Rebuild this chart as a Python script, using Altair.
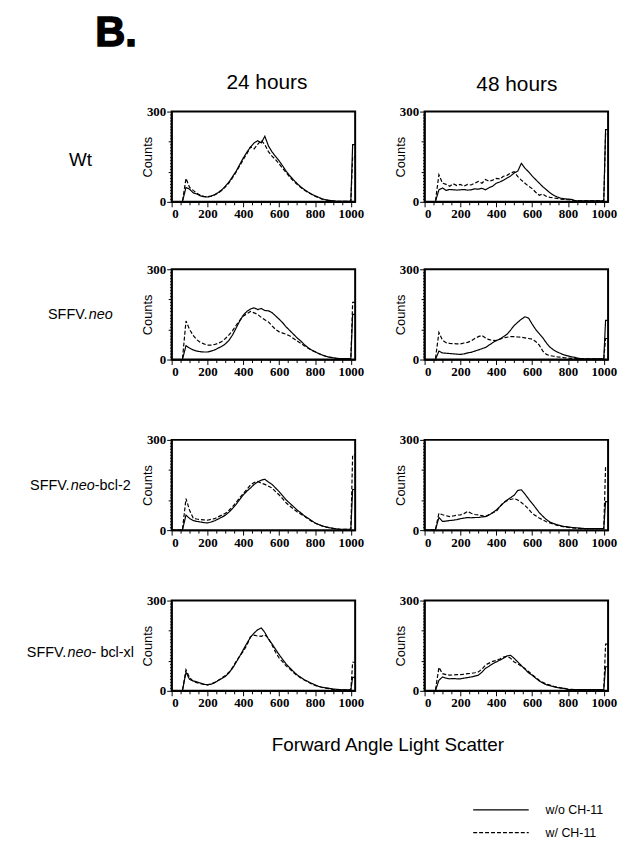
import altair as alt
import pandas as pd

# ---------------- data ----------------
CHANNELS = list(range(0, 1001, 20)) + [1010, 1024]

WT24_SOLID = [0, 0, 0, 0, 48, 42, 30, 26, 20, 17, 16, 19, 24, 31, 40, 52, 66, 84, 102, 124,
              146, 165, 182, 196, 203, 196, 218, 186, 166, 151, 136, 119, 101, 86, 73, 61, 50, 41, 33, 26,
              20, 15, 10, 7, 5, 3, 2, 2, 2, 2, 2, 190, 190]
WT24_DASH = [0, 0, 0, 0, 78, 48, 38, 29, 22, 18, 17, 19, 23, 29, 38, 50, 63, 80, 99, 120,
             141, 160, 183, 176, 191, 204, 190, 167, 152, 140, 126, 111, 96, 82, 69, 58, 48, 39, 31, 25,
             19, 14, 9, 6, 4, 3, 2, 2, 2, 2, 2, 150, 150]
WT48_SOLID = [0, 0, 0, 0, 40, 46, 38, 41, 40, 39, 40, 41, 39, 40, 43, 42, 45, 40, 47, 52,
              62, 66, 72, 79, 86, 96, 102, 128, 112, 100, 86, 74, 62, 50, 40, 30, 22, 16, 12, 10,
              9, 8, 4, 3, 3, 3, 3, 3, 3, 3, 3, 240, 240]
WT48_DASH = [0, 0, 0, 0, 90, 62, 58, 52, 60, 54, 58, 52, 58, 56, 62, 68, 62, 74, 68, 72,
             78, 76, 85, 88, 96, 100, 84, 72, 62, 52, 44, 32, 22, 26, 18, 15, 13, 11, 9, 8,
             7, 6, 3, 3, 3, 3, 3, 3, 3, 3, 3, 225, 225]
NEO24_SOLID = [0, 0, 0, 0, 46, 38, 32, 28, 26, 25, 25, 28, 32, 38, 44, 52, 64, 82, 105, 128,
               148, 160, 168, 172, 166, 170, 163, 162, 156, 145, 134, 122, 108, 96, 84, 72, 62, 50, 40, 32,
               26, 20, 15, 11, 8, 6, 4, 3, 3, 3, 3, 150, 150]
NEO24_DASH = [0, 0, 0, 0, 128, 100, 80, 66, 57, 52, 48, 48, 50, 54, 60, 70, 82, 96, 114, 130,
              145, 152, 160, 155, 150, 140, 132, 125, 112, 100, 92, 88, 84, 78, 70, 62, 54, 46, 38, 31,
              26, 20, 15, 11, 8, 6, 4, 3, 3, 3, 3, 190, 190]
NEO48_SOLID = [0, 0, 0, 0, 28, 22, 21, 20, 19, 18, 17, 19, 22, 24, 28, 32, 36, 40, 48, 56,
               63, 68, 76, 84, 98, 113, 124, 134, 142, 138, 118, 100, 86, 72, 55, 41, 32, 25, 20, 15,
               12, 9, 7, 4, 3, 2, 2, 2, 2, 2, 2, 130, 130]
NEO48_DASH = [0, 0, 0, 0, 90, 64, 56, 54, 53, 52, 52, 55, 57, 62, 70, 76, 80, 72, 66, 64,
              63, 68, 72, 74, 76, 76, 75, 74, 72, 70, 68, 60, 48, 28, 17, 13, 11, 9, 8, 6,
              5, 4, 3, 3, 2, 2, 2, 2, 2, 2, 2, 70, 70]
BCL2_24_SOLID = [0, 0, 0, 0, 50, 39, 32, 29, 27, 25, 24, 27, 31, 37, 43, 50, 60, 72, 86, 102,
                 117, 130, 140, 152, 160, 166, 169, 160, 152, 140, 128, 114, 100, 89, 78, 67, 58, 48, 40, 32,
                 24, 19, 14, 11, 8, 6, 4, 3, 3, 3, 3, 135, 135]
BCL2_24_DASH = [0, 0, 0, 0, 105, 66, 40, 37, 35, 34, 33, 36, 38, 44, 50, 56, 66, 78, 92, 108,
                122, 136, 150, 158, 162, 156, 152, 146, 140, 128, 117, 104, 90, 80, 70, 61, 54, 46, 38, 30,
                24, 18, 14, 10, 8, 6, 4, 3, 3, 3, 3, 250, 250]
BCL2_48_SOLID = [0, 0, 0, 0, 42, 29, 30, 32, 33, 35, 38, 40, 42, 41, 42, 42, 44, 45, 50, 58,
                 67, 78, 90, 100, 108, 116, 132, 134, 120, 104, 89, 74, 58, 46, 35, 27, 22, 18, 15, 12,
                 11, 9, 8, 7, 6, 5, 5, 5, 5, 5, 5, 95, 95]
BCL2_48_DASH = [0, 0, 0, 0, 56, 51, 48, 45, 47, 50, 51, 55, 62, 56, 52, 51, 48, 45, 52, 58,
                62, 78, 92, 98, 102, 105, 100, 92, 82, 70, 56, 48, 40, 34, 28, 24, 20, 16, 13, 11,
                9, 8, 7, 6, 5, 5, 5, 5, 5, 5, 5, 210, 210]
BCLXL_24_SOLID = [0, 0, 0, 0, 62, 38, 33, 30, 26, 22, 20, 22, 27, 34, 41, 48, 60, 75, 95, 115,
                  137, 158, 178, 192, 203, 209, 194, 172, 156, 138, 120, 104, 88, 76, 64, 53, 45, 37, 31, 25,
                  20, 15, 12, 10, 8, 6, 5, 4, 3, 3, 3, 45, 45]
BCLXL_24_DASH = [0, 0, 0, 0, 70, 44, 32, 27, 24, 21, 20, 23, 28, 35, 43, 51, 62, 78, 98, 116,
                 131, 152, 180, 185, 182, 181, 186, 175, 152, 128, 109, 96, 82, 72, 61, 51, 43, 36, 30, 23,
                 18, 14, 11, 9, 7, 5, 4, 3, 3, 3, 3, 95, 95]
BCLXL_48_SOLID = [0, 0, 0, 0, 35, 46, 42, 40, 41, 40, 40, 42, 44, 46, 49, 52, 62, 75, 82, 90,
                  96, 102, 108, 116, 118, 108, 96, 84, 72, 60, 52, 42, 33, 26, 20, 17, 14, 11, 9, 8,
                  4, 4, 4, 4, 4, 4, 4, 4, 4, 4, 4, 80, 80]
BCLXL_48_DASH = [0, 0, 0, 0, 78, 57, 54, 52, 53, 54, 54, 55, 57, 58, 60, 63, 72, 86, 92, 98,
                 101, 106, 112, 115, 108, 96, 90, 82, 74, 64, 54, 44, 35, 28, 22, 19, 15, 12, 10, 8,
                 6, 5, 4, 4, 4, 4, 4, 4, 4, 4, 4, 155, 155]

PANEL_SERIES = [
    [(WT24_SOLID, WT24_DASH), (WT48_SOLID, WT48_DASH)],
    [(NEO24_SOLID, NEO24_DASH), (NEO48_SOLID, NEO48_DASH)],
    [(BCL2_24_SOLID, BCL2_24_DASH), (BCL2_48_SOLID, BCL2_48_DASH)],
    [(BCLXL_24_SOLID, BCLXL_24_DASH), (BCLXL_48_SOLID, BCLXL_48_DASH)],
]

TREATMENTS = ["w/o CH-11", "w/ CH-11"]
DASHES = [[1, 0], [4, 2]]
HOURS = ["24 hours", "48 hours"]
ROW_LABEL_PARTS = [
    [("Wt", "normal")],
    [("SFFV.", "normal"), ("neo", "italic")],
    [("SFFV.", "normal"), ("neo", "italic"), ("-bcl-2", "normal")],
    [("SFFV.", "normal"), ("neo", "italic"), ("- bcl-xl", "normal")],
]
X_TICKS = list(range(0, 1001, 50))
Y_TICKS = list(range(0, 301, 10))
X_TITLE = "Forward Angle Light Scatter"

# ---------------- layout / style ----------------
PLOT_W, PLOT_H = 185, 91
LABEL_W, COL_GAP = 94, 70
HEADER_H = 100
ROW_PITCH = [159, 172, 162, 128]
FOOTER_H = 112
ROW_LABEL_CENTER = 72
ROW_LABEL_MID = [49, 46, 47, 53]
ROW_LABEL_SIZE = [19, 14.5, 14.5, 14.5]
SANS = "Liberation Sans"
SERIF = "Liberation Serif"

ARIAL_W = {'S': .667, 'F': .611, 'V': .667, '.': .278, 'n': .556, 'e': .556, 'o': .556,
           '-': .333, 'b': .556, 'c': .5, 'l': .222, '2': .556, ' ': .278, 'x': .5,
           'W': .944, 't': .278}


def text_width(s, size):
    return sum(ARIAL_W.get(ch, .556) for ch in s) * size


dash_scale = alt.Scale(domain=TREATMENTS, range=DASHES)

x_axis = alt.Axis(
    values=X_TICKS, format="d", title=None, grid=False,
    labelExpr="datum.value % 200 === 0 ? datum.label : ''",
    labelFont=SERIF, labelFontWeight="bold", labelFontSize=13, labelColor="black",
    labelPadding=1, labelOverlap=False,
    tickColor="black", tickWidth=1,
    tickSize={"condition": {"test": "datum.value % 200 === 0", "value": 5}, "value": 3},
    domainColor="black", domainWidth=1.2,
)
y_axis = alt.Axis(
    values=Y_TICKS, format="d", grid=False,
    labelExpr="datum.value % 300 === 0 ? datum.label : ''",
    labelFont=SERIF, labelFontWeight="bold", labelFontSize=13, labelColor="black",
    labelPadding=1, labelOverlap=False,
    tickColor="black", tickWidth=1,
    tickSize={"condition": [{"test": "datum.value % 300 === 0", "value": 5},
                            {"test": "datum.value % 100 === 0", "value": 3.5}], "value": 2},
    domainColor="black", domainWidth=1.2,
    title="Counts", titleFont=SANS, titleFontSize=13, titleFontWeight="normal", titleColor="black",
    titleAngle=270, titleX=-17, titleY=PLOT_H / 2, titleAlign="center", titleBaseline="bottom",
)


def panel(solid, dashed):
    n = len(CHANNELS)
    df = pd.DataFrame({
        "channel": CHANNELS + CHANNELS,
        "count": solid + dashed,
        "treatment": [TREATMENTS[0]] * n + [TREATMENTS[1]] * n,
    })
    return alt.Chart(df).mark_line(interpolate="linear", color="black", strokeWidth=1.2).encode(
        x=alt.X("channel:Q", scale=alt.Scale(domain=[0, 1024], nice=False, zero=False), axis=x_axis),
        y=alt.Y("count:Q", scale=alt.Scale(domain=[0, 300], nice=False), axis=y_axis),
        strokeDash=alt.StrokeDash("treatment:N", scale=dash_scale, legend=None),
    ).properties(width=PLOT_W, height=PLOT_H,
                 view=alt.ViewBackground(stroke="black", strokeWidth=2, fill="white"))


def text_chart(text, x, y, **kw):
    return alt.Chart(pd.DataFrame({"t": [text]})).mark_text(**kw).encode(
        text="t:N", x=alt.value(x), y=alt.value(y))


def blank(w, h, layers):
    return alt.layer(*layers).properties(width=w, height=h,
                                         view=alt.ViewBackground(fill="white", stroke="transparent"))


# header row
hdr_b = blank(LABEL_W, HEADER_H, [text_chart("B.", 87, 1, font=SANS, fontSize=42, fontWeight="bold",
                                             align="left", baseline="top",
                                             stroke="black", strokeWidth=1.4, color="black")])
hdr_24 = blank(PLOT_W, HEADER_H, [text_chart(HOURS[0], 96, 77, font=SANS, fontSize=21,
                                             align="center", baseline="alphabetic", color="black")])
hdr_48 = blank(PLOT_W, HEADER_H, [text_chart(HOURS[1], 93, 79, font=SANS, fontSize=21,
                                             align="center", baseline="alphabetic", color="black")])

cells = [hdr_b, hdr_24, hdr_48]
for r in range(4):
    segs = []
    size = ROW_LABEL_SIZE[r]
    total = sum(text_width(t, size) for t, _ in ROW_LABEL_PARTS[r])
    x = ROW_LABEL_CENTER - total / 2
    for txt, style in ROW_LABEL_PARTS[r]:
        segs.append(text_chart(txt, x, ROW_LABEL_MID[r], font=SANS, fontSize=size, fontStyle=style,
                               align="left", baseline="middle", color="black"))
        x += text_width(txt, size)
    cells.append(blank(LABEL_W, ROW_PITCH[r], segs))
    cells.append(panel(*PANEL_SERIES[r][0]))
    cells.append(panel(*PANEL_SERIES[r][1]))

# footer: axis caption and a legend drawn from the shared dash scale
leg_df = pd.DataFrame({"treatment": TREATMENTS})
leg_y = alt.Y("treatment:N", scale=alt.Scale(type="point", domain=TREATMENTS, range=[83, 106], padding=0),
              axis=None)
leg_lines = alt.Chart(leg_df).mark_rule(color="black", strokeWidth=1.3).encode(
    x=alt.value(468), x2=alt.value(524), y=leg_y,
    strokeDash=alt.StrokeDash("treatment:N", scale=dash_scale, legend=None))
leg_text = alt.Chart(leg_df).mark_text(font=SANS, fontSize=12.5, align="left", baseline="middle",
                                       color="black").encode(
    x=alt.value(541), y=leg_y, text="treatment:N")
caption = text_chart(X_TITLE, 382, 24, font=SANS, fontSize=19, align="center",
                     baseline="alphabetic", color="black")
footer = blank(LABEL_W, FOOTER_H, [caption, leg_lines, leg_text])
cells.append(footer)

chart = alt.concat(*cells, columns=3, spacing={"row": 0, "column": COL_GAP},
                   align="each", bounds="flush").properties(padding=0).configure_view(
    stroke="transparent", fill="white").configure(background="white")

chart.save("out.html", embed_options={"renderer": "svg", "actions": False})
